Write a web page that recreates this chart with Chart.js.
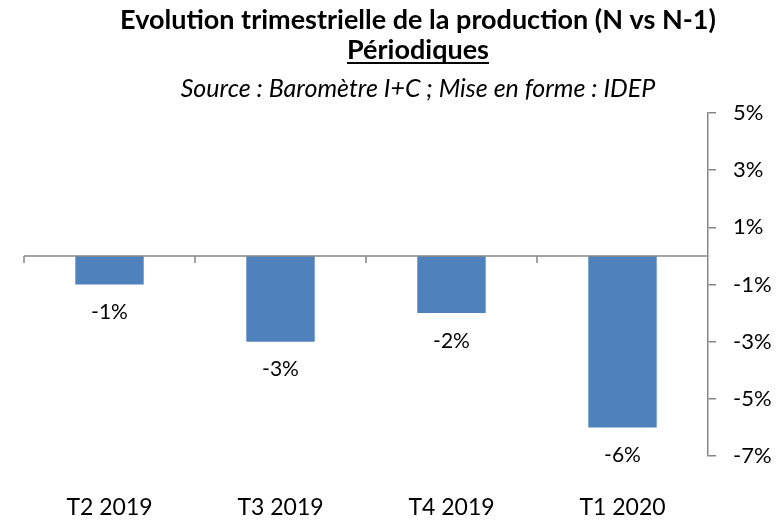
<!DOCTYPE html>
<html>
<head>
<meta charset="utf-8">
<script src="https://cdn.jsdelivr.net/npm/chart.js@4"></script>
<style>
  html, body { margin: 0; padding: 0; background: #fff; }
  #wrap { width: 781px; height: 522px; }
</style>
</head>
<body>
<div id="wrap"><canvas id="bar-chart" width="781" height="522"></canvas></div>
<script>
// trimestres et evolution (en %)
const trimestres = ["T2 2019", "T3 2019", "T4 2019", "T1 2020"];
const evolution = [-1, -3, -2, -6];
const titre = "Evolution trimestrielle de la production (N vs N-1)";
const sousTitre = "Périodiques";
const source = "Source : Baromètre I+C ; Mise en forme : IDEP";

const police = "Lato, 'Open Sans', sans-serif";
const gris = "#868686";

// titres dessines a la main pour pouvoir les decaler vers la droite
const titres = {
  id: "titres",
  afterDraw(chart) {
    const ctx = chart.ctx;
    const cx = 418;
    ctx.save();
    ctx.fillStyle = "#000";
    ctx.textAlign = "center";
    ctx.textBaseline = "alphabetic";
    ctx.font = "bold 27px " + police;
    ctx.fillText(titre, cx, 29);
    ctx.fillText(sousTitre, cx, 59);
    let w = ctx.measureText(sousTitre).width;
    ctx.fillRect(cx - w / 2, 62, w, 2);
    ctx.font = "italic 25px " + police;
    ctx.fillText(source, cx, 97);
    ctx.restore();
  }
};

// ligne du zero + graduations de l'axe des categories
const axeZero = {
  id: "axeZero",
  afterDatasetsDraw(chart) {
    const ctx = chart.ctx;
    const x = chart.scales.x;
    const y0 = chart.scales.y.getPixelForValue(0);
    const area = chart.chartArea;
    ctx.save();
    ctx.strokeStyle = gris;
    ctx.lineWidth = 1.5;
    ctx.beginPath();
    ctx.moveTo(area.left, y0);
    ctx.lineTo(area.right, y0);
    let bords = [area.left];
    for (let i = 1; i < trimestres.length; i++) {
      bords.push((x.getPixelForValue(i - 1) + x.getPixelForValue(i)) / 2);
    }
    for (let b of bords) {
      ctx.moveTo(b, y0);
      ctx.lineTo(b, y0 + 7);
    }
    ctx.stroke();
    ctx.restore();
  }
};

// etiquettes sous les barres
const etiquettes = {
  id: "etiquettes",
  afterDatasetsDraw(chart) {
    const ctx = chart.ctx;
    const meta = chart.getDatasetMeta(0);
    ctx.save();
    ctx.fillStyle = "#000";
    ctx.font = "21px " + police;
    ctx.textAlign = "center";
    ctx.textBaseline = "middle";
    meta.data.forEach(function(bar, i) {
      ctx.fillText(evolution[i] + "%", bar.x, bar.y + 28);
    });
    ctx.restore();
  }
};

new Chart(document.getElementById("bar-chart"), {
  type: "bar",
  data: {
    labels: trimestres,
    datasets: [
      {
        data: evolution,
        backgroundColor: "#4F81BD",
        borderWidth: 0,
        barPercentage: 0.4,
        categoryPercentage: 1
      }
    ]
  },
  options: {
    responsive: false,
    animation: false,
    layout: { padding: { top: 113, left: 24, right: 0, bottom: 0 } },
    plugins: {
      legend: { display: false },
      tooltip: { enabled: false }
    },
    scales: {
      x: {
        grid: { display: false, drawTicks: false },
        border: { display: false },
        ticks: { color: "#000", padding: 38, font: { family: police, size: 23 } },
        afterFit: function(scale) { scale.height = 66; }
      },
      y: {
        position: "right",
        min: -7,
        max: 5,
        grid: { drawOnChartArea: false, drawTicks: true, tickLength: 8, color: gris, lineWidth: 1.5 },
        border: { display: true, color: gris, width: 1.5 },
        ticks: {
          stepSize: 2,
          color: "#000",
          padding: 17,
          font: { family: police, size: 22 },
          callback: function(v) { return v + "%"; }
        },
        afterFit: function(scale) { scale.width = 73; }
      }
    }
  },
  plugins: [titres, axeZero, etiquettes]
});
</script>
</body>
</html>
